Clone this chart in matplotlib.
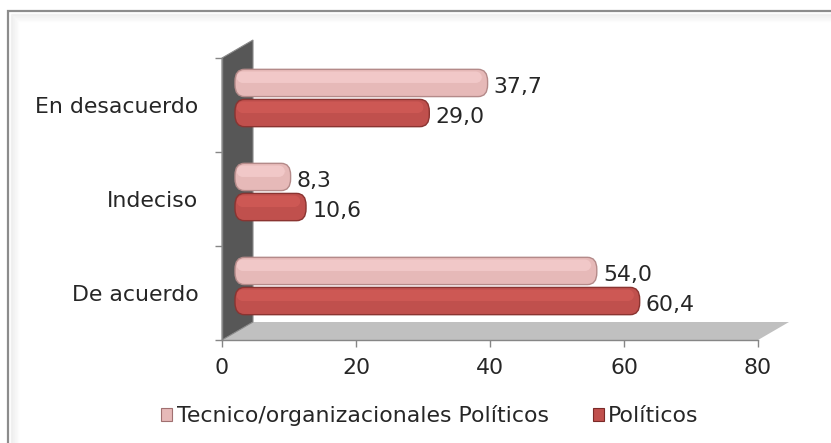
import matplotlib
matplotlib.use("Agg")
import matplotlib.pyplot as plt
import matplotlib.transforms as mtransforms
from matplotlib.patches import FancyBboxPatch, Polygon, Patch, Rectangle
import numpy as np

# datos
categorias = ["De acuerdo", "Indeciso", "En desacuerdo"]
tecnicos = [54.0, 8.3, 37.7]
politicos = [60.4, 10.6, 29.0]
ticks_x = [0, 20, 40, 60, 80]
series = ["Tecnico/organizacionales Políticos", "Políticos"]

plt.rcParams['font.family'] = ['DejaVu Sans']
FS = 15.8

W, H = 831, 443
fig = plt.figure(figsize=(W / 100, H / 100), dpi=100)

# marco exterior con sombra interior
fig.add_artist(Rectangle((8 / W, -0.1), 1.2, 1 - 11 / H + 0.1, transform=fig.transFigure,
                         fill=False, ec='#8c8c8c', lw=1.6))
for k in range(1, 9):
    fig.add_artist(Rectangle(((8 + 2 + k) / W, -0.1), 1.2, 1 - (11 + 2 + k) / H + 0.1,
                             transform=fig.transFigure, fill=False,
                             ec='#9a9a9a', lw=1.0, alpha=0.12 * (9 - k) / 8))

ax_l, ax_r, ax_t, ax_b = 222, 758, 58, 340
ax = fig.add_axes([ax_l / W, 1 - ax_b / H, (ax_r - ax_l) / W, (ax_b - ax_t) / H])
ax.set_xlim(0, 80)
ax.set_ylim(-0.5, 2.5)
ax.patch.set_alpha(0)

# profundidad del efecto 3d (pixeles)
dx, dy = 31, 18
fx, fy = dx / (ax_r - ax_l), dy / (ax_b - ax_t)

piso = Polygon([(0, 0), (1, 0), (1 + fx, fy), (fx, fy)], closed=True,
               transform=ax.transAxes, fc='#c0c0c0', ec='none', clip_on=False, zorder=0)
pared = Polygon([(0, 0), (0, 1), (fx, 1 + fy), (fx, fy)], closed=True,
                transform=ax.transAxes, fc='#575757', ec='#8a8a8a', lw=0.8,
                clip_on=False, zorder=0.5)
ax.add_patch(piso)
ax.add_patch(pared)

tr_barras = mtransforms.offset_copy(ax.transData, fig=fig, x=13, y=7, units='dots')

alto = 0.29
sep = 0.16
y = np.arange(len(categorias))

estilos = [
    (tecnicos, y + sep, '#e6b9b8', '#f6cfcf', '#b48a89'),
    (politicos, y - sep, '#c0504d', '#d35c58', '#8a3431'),
]

for vals, ys, c_base, c_luz, c_borde in estilos:
    barras = ax.barh(ys, vals, alto, transform=tr_barras, color='none', zorder=2)
    for r, v in zip(barras, vals):
        x0, y0, w, h = r.get_x(), r.get_y(), r.get_width(), r.get_height()
        r.set_visible(False)
        estilo = "round,pad=0,rounding_size=1.4"
        ax.add_patch(FancyBboxPatch((x0, y0), w, h, boxstyle=estilo, mutation_aspect=0.09,
                                    transform=tr_barras, fc=c_base, ec=c_borde, lw=1.0,
                                    zorder=3))
        ax.add_patch(FancyBboxPatch((x0 + 0.2, y0 + h * 0.5), max(w - 1.0, 0.1), h * 0.42,
                                    boxstyle="round,pad=0,rounding_size=1.0",
                                    mutation_aspect=0.09, transform=tr_barras,
                                    fc=c_luz, ec='none', alpha=0.7, zorder=4))
        ax.annotate(f"{v:.1f}".replace(".", ","), xy=(x0 + w, y0 + h / 2), xycoords=tr_barras,
                    xytext=(4.5, -3), textcoords='offset points', ha='left', va='center',
                    fontsize=FS, color='#262626', zorder=5)

# ejes
for s in ['top', 'right']:
    ax.spines[s].set_visible(False)
for s in ['left', 'bottom']:
    ax.spines[s].set_color('#868686')
    ax.spines[s].set_linewidth(1.0)
    ax.spines[s].set_zorder(1)

ax.set_xticks(ticks_x)
ax.set_xticklabels([str(t) for t in ticks_x])
ax.tick_params(axis='x', length=5, width=1, color='#868686', pad=8,
               labelsize=FS, labelcolor='#262626')

ax.set_yticks(y)
ax.set_yticklabels(categorias)
ax.set_yticks(np.arange(-0.5, len(categorias), 1.0), minor=True)
ax.tick_params(axis='y', which='major', length=0, pad=17, labelsize=FS, labelcolor='#262626')
ax.tick_params(axis='y', which='minor', length=5, width=1, color='#868686')

# leyenda
manijas = [Patch(fc='#e6b9b8', ec='#a07070', lw=0.8), Patch(fc='#c0504d', ec='#7a2a28', lw=0.8)]
fig.legend(manijas, series, loc='center', bbox_to_anchor=(430 / W, 1 - 416 / H), ncol=2,
           frameon=False, fontsize=FS, handlelength=0.5, handleheight=0.5,
           handletextpad=0.2, columnspacing=2.0, labelcolor='#262626')

fig.savefig("out.png", dpi=100)
